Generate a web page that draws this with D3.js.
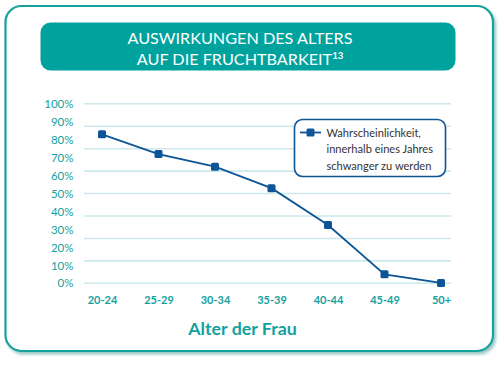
<!DOCTYPE html>
<html>
<head>
<meta charset="utf-8">
<script src="https://cdn.jsdelivr.net/npm/d3@7"></script>
<style>
  html, body { margin: 0; padding: 0; background: #fff; }
  svg { display: block; }
  text { font-family: Lato, "Open Sans", sans-serif; }
</style>
</head>
<body>
<svg id="chart" width="500" height="366"></svg>
<script>
const categories = ["20-24", "25-29", "30-34", "35-39", "40-44", "45-49", "50+"];
const values = [0.83, 0.72, 0.65, 0.53, 0.325, 0.05, 0.002];
const yTickValues = [0, 0.1, 0.2, 0.3, 0.4, 0.5, 0.6, 0.7, 0.8, 0.9, 1.0];
const gridValues = [0, 0.125, 0.25, 0.375, 0.5, 0.625, 0.75, 0.875, 1.0];
const titleLines = ["AUSWIRKUNGEN DES ALTERS", "AUF DIE FRUCHTBARKEIT"];
const titleSup = "13";
const legendLines = ["Wahrscheinlichkeit,", "innerhalb eines Jahres", "schwanger zu werden"];
const xTitle = "Alter der Frau";

const teal = "#14a19e";
const titleFill = "#00a29e";
const navy = "#0d5596";

const svg = d3.select("#chart");
const defs = svg.append("defs");
const f = defs.append("filter").attr("id", "sh").attr("x", "-5%").attr("y", "-5%").attr("width", "110%").attr("height", "110%");
f.append("feDropShadow").attr("dx", 2).attr("dy", 2.5).attr("stdDeviation", 1.6).attr("flood-color", "#7fb9b8").attr("flood-opacity", 0.8);

// outer frame
svg.append("rect")
  .attr("x", 5.5).attr("y", 6).attr("width", 487.5).attr("height", 345)
  .attr("rx", 16).attr("fill", "#fff").attr("stroke", teal).attr("stroke-width", 2.2)
  .attr("filter", "url(#sh)");

// title box
svg.append("rect")
  .attr("x", 40.5).attr("y", 22.5).attr("width", 415).attr("height", 48)
  .attr("rx", 10).attr("fill", titleFill);

const t1 = svg.append("text").attr("x", 240).attr("y", 43.5).attr("text-anchor", "middle")
  .attr("fill", "#fff").attr("font-size", 16.2).text(titleLines[0]);
const t2 = svg.append("text").attr("x", 240).attr("y", 65).attr("text-anchor", "middle")
  .attr("fill", "#fff").attr("font-size", 16.2);
t2.append("tspan").text(titleLines[1]);
t2.append("tspan").attr("font-size", 9.5).attr("dy", -6).attr("font-weight", "bold").text(titleSup);

// scales
const x = d3.scalePoint().domain(categories).range([102, 441]);
const y = d3.scaleLinear().domain([0, 1]).range([283.3, 103.8]);

// gridlines
svg.append("g").selectAll("line").data(gridValues).join("line")
  .attr("x1", 84).attr("x2", 451)
  .attr("y1", d => y(d)).attr("y2", d => y(d))
  .attr("stroke", "#cde8eb").attr("stroke-width", 1.6);

// y axis labels
const yAxis = d3.axisLeft(y).tickValues(yTickValues).tickFormat(d3.format(".0%")).tickSize(0).tickPadding(0);
const gy = svg.append("g").attr("transform", "translate(73.5,0)").call(yAxis);
gy.select(".domain").remove();
gy.selectAll("text").attr("fill", teal).attr("font-size", 11.5).attr("font-family", "Lato, sans-serif");

// x axis labels
const xAxis = d3.axisBottom(x).tickSize(0).tickPadding(0);
const gx = svg.append("g").attr("transform", "translate(0,296)").call(xAxis);
gx.select(".domain").remove();
gx.selectAll("text").attr("fill", teal).attr("font-size", 11).attr("font-weight", "bold").attr("font-family", "Lato, sans-serif");

// x title
svg.append("text").attr("x", 242.5).attr("y", 335).attr("text-anchor", "middle")
  .attr("fill", teal).attr("font-size", 17.8).attr("font-weight", "bold").text(xTitle);

// line
const line = d3.line().x((d, i) => x(categories[i])).y(d => y(d));
svg.append("path").datum(values).attr("d", line)
  .attr("fill", "none").attr("stroke", navy).attr("stroke-width", 1.8);

const ms = 8;
svg.append("g").selectAll("rect").data(values).join("rect")
  .attr("x", (d, i) => x(categories[i]) - ms / 2)
  .attr("y", d => y(d) - ms / 2)
  .attr("width", ms).attr("height", ms).attr("rx", 1.5)
  .attr("fill", navy);

// legend
const lg = svg.append("g");
lg.append("rect").attr("x", 294.5).attr("y", 119.5).attr("width", 151).attr("height", 57)
  .attr("rx", 8).attr("fill", "#fff").attr("stroke", navy).attr("stroke-width", 1.6);
lg.append("line").attr("x1", 300).attr("x2", 321).attr("y1", 132.5).attr("y2", 132.5)
  .attr("stroke", navy).attr("stroke-width", 1.8);
lg.append("rect").attr("x", 310.5 - ms / 2).attr("y", 132.5 - ms / 2).attr("width", ms).attr("height", ms)
  .attr("rx", 1.5).attr("fill", navy);
const lt = lg.append("g").attr("transform", "translate(326.5,0) scale(0.9,1)");
lt.selectAll("text").data(legendLines).join("text")
  .attr("x", 0).attr("y", (d, i) => 137 + i * 16.5)
  .attr("fill", "#333").attr("font-size", 12.3).text(d => d);
</script>
</body>
</html>
